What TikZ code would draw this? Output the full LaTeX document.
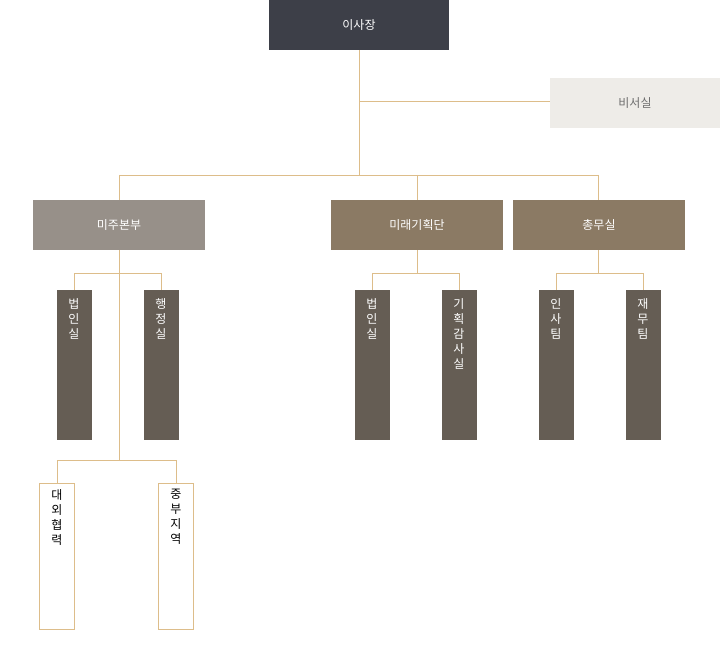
\documentclass[tikz,border=0pt]{standalone}
\usepackage{fontspec}
\newfontfamily\kr{Noto Sans CJK KR}
\begin{document}
\begin{tikzpicture}[x=1pt,y=-1pt,
  ln/.style={draw=gline,line width=0.8pt},
  hbox/.style={minimum width=172pt,minimum height=50pt,inner sep=0pt,font=\kr\fontsize{12}{14}\selectfont,text=white},
  vbox/.style={minimum width=35pt,minimum height=150pt,inner sep=0pt,fill=vcol},
  obox/.style={minimum width=35pt,minimum height=146pt,inner sep=0pt,draw=gline,line width=0.8pt,fill=white},
  vt/.style={font=\kr\fontsize{12}{15}\selectfont,align=center,anchor=north,inner sep=0pt}]
\definecolor{gline}{HTML}{DDBD8A}
\definecolor{vcol}{HTML}{655D54}
\useasboundingbox (0,0) rectangle (720,655);
% lines
\draw[ln] (359,50) -- (359,175);
\draw[ln] (359,101) -- (550,101);
\draw[ln] (119,175) -- (598,175);
\foreach \x in {119,417,598} \draw[ln] (\x,175) -- (\x,200);
\draw[ln] (119,250) -- (119,460);
\foreach \c/\a/\b in {119/74/161,417/372/459,598/556/643}{
  \draw[ln] (\c,250) -- (\c,273);
  \draw[ln] (\a,290) -- (\a,273) -- (\b,273) -- (\b,290);}
\draw[ln] (57,483) -- (57,460) -- (176,460) -- (176,483);
% boxes
\node[hbox,fill={rgb,255:red,61;green,63;blue,72},minimum width=180pt] (ceo) at (359,25) {이사장};
\node[hbox,fill={rgb,255:red,238;green,236;blue,232},minimum width=170pt,text={rgb,255:red,110;green,110;blue,110}] (sec) at (635,103) {비서실};
\node[hbox,fill={rgb,255:red,151;green,144;blue,137}] (mj) at (119,225) {미주본부};
\node[hbox,fill={rgb,255:red,139;green,122;blue,100}] (mr) at (417,225) {미래기획단};
\node[hbox,fill={rgb,255:red,139;green,122;blue,100}] (cm) at (599,225) {총무실};
\foreach \n/\x/\t in {a/74/{법\\인\\실},b/161/{행\\정\\실},c/372/{법\\인\\실},d/459/{기\\획\\감\\사\\실},e/556/{인\\사\\팀},f/643/{재\\무\\팀}}{
  \node[vbox] (\n) at (\x,365) {};
  \node[vt,text=white] at (\x,298) {\t};}
\foreach \n/\x/\t in {g/57/{대\\외\\협\\력},h/176/{중\\부\\지\\역}}{
  \node[obox] (\n) at (\x,556) {};
  \node[vt,text=black] at (\x,489) {\t};}
\end{tikzpicture}
\end{document}
